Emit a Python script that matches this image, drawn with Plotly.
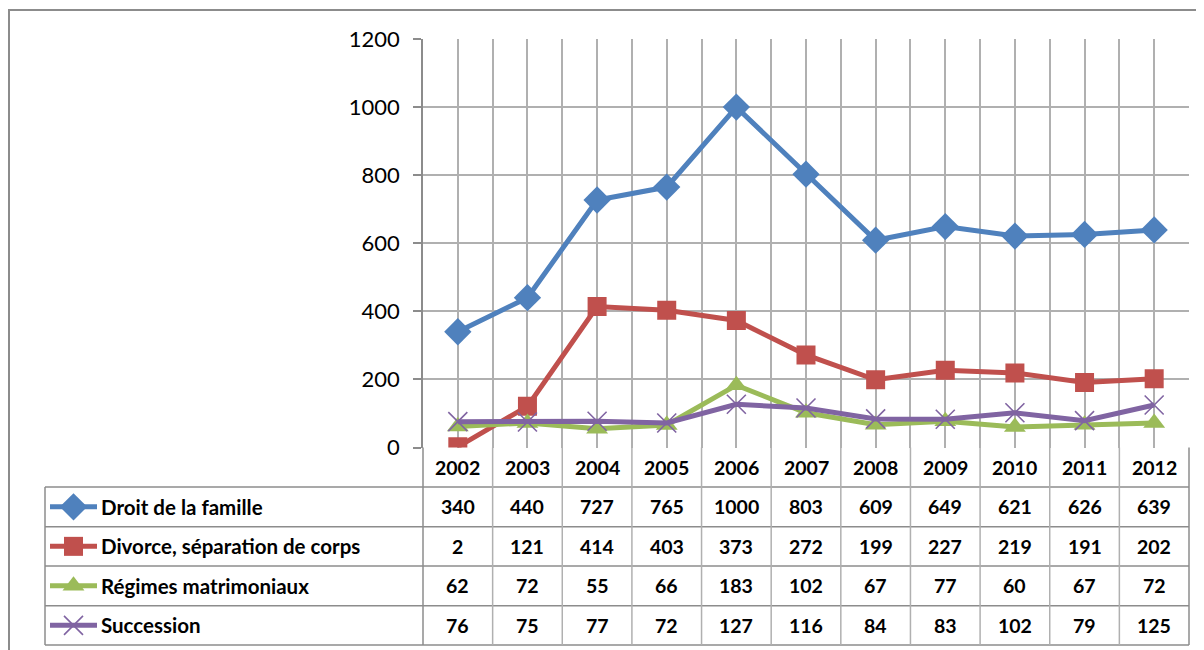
import plotly.graph_objects as go

years = ["2002", "2003", "2004", "2005", "2006", "2007", "2008", "2009", "2010", "2011", "2012"]
series_names = ["Droit de la famille", "Divorce, séparation de corps", "Régimes matrimoniaux", "Succession"]
droit = [340, 440, 727, 765, 1000, 803, 609, 649, 621, 626, 639]
divorce = [2, 121, 414, 403, 373, 272, 199, 227, 219, 191, 202]
regimes = [62, 72, 55, 66, 183, 102, 67, 77, 60, 67, 72]
succession = [76, 75, 77, 72, 127, 116, 84, 83, 102, 79, 125]
y_ticks = [0, 200, 400, 600, 800, 1000, 1200]

values = [droit, divorce, regimes, succession]
colors = ["#4F81BD", "#C0504D", "#9BBB59", "#8064A2"]
symbols = ["diamond", "square", "triangle-up", "x-thin"]
msizes = [21, 19, 19, 19]

W, H = 1204, 650
OFF = 8  # page body offset compensation
PL, PR, PT, PB = 423 - OFF, 1189 - OFF, 39 - OFF, 447.5 - OFF   # plot area in pixels
TL = 45 - OFF                                                    # table left
rows_y = [v - OFF for v in [447.5, 487, 526.7, 566, 605.7, 645]]
n = len(years)
cw = (PR - PL) / n
FONT = "Lato"
GRID = "#B0B0B0"
BORDER = "#8C8C8C"


def mk(c, s, ms):
    if s == "x-thin":
        return dict(symbol=s, size=ms, color=c, line=dict(width=1.6, color=c))
    return dict(symbol=s, size=ms, color=c, line=dict(width=0))


fig = go.Figure()
xs = list(range(n))
for name, vals, c, s, ms in zip(series_names, values, colors, symbols, msizes):
    fig.add_trace(go.Scatter(x=xs, y=vals, mode="lines+markers", name=name,
                             line=dict(color=c, width=5), marker=mk(c, s, ms),
                             showlegend=False, hoverinfo="skip"))

# legend keys in table (separate full-page pixel axes)
for i, (c, s, ms) in enumerate(zip(colors, symbols, msizes)):
    yc = (rows_y[i + 1] + rows_y[i + 2]) / 2
    fig.add_trace(go.Scatter(x=[50 - OFF, 97 - OFF], y=[yc, yc], mode="lines", line=dict(color=c, width=5),
                             xaxis="x2", yaxis="y2", showlegend=False, hoverinfo="skip"))
    fig.add_trace(go.Scatter(x=[73.5 - OFF], y=[yc], mode="markers", marker=mk(c, s, ms),
                             xaxis="x2", yaxis="y2", showlegend=False, hoverinfo="skip"))

shapes = []
annotations = []
# outer chart frame
shapes.append(dict(type="rect", xref="x2", yref="y2", x0=1, y0=10 - OFF, x1=1215, y1=665,
                   line=dict(color="#8C8C8C", width=2), layer="below"))
# table horizontal lines
for y in rows_y[1:]:
    shapes.append(dict(type="line", xref="x2", yref="y2", x0=TL, x1=PR, y0=y, y1=y,
                       line=dict(color=BORDER, width=1.5), layer="below"))
# table vertical lines
shapes.append(dict(type="line", xref="x2", yref="y2", x0=TL, x1=TL, y0=rows_y[1], y1=rows_y[-1],
                   line=dict(color=BORDER, width=1.5), layer="below"))
for k in range(n + 1):
    x = PL + k * cw
    shapes.append(dict(type="line", xref="x2", yref="y2", x0=x, x1=x, y0=rows_y[0], y1=rows_y[-1],
                       line=dict(color=BORDER if k in (0, n) else GRID, width=1.5), layer="below"))

# header years
for k, yr in enumerate(years):
    annotations.append(dict(xref="x2", yref="y2", x=PL + (k + 0.5) * cw, y=(rows_y[0] + rows_y[1]) / 2,
                            text="<b>%s</b>" % yr, showarrow=False, xanchor="center", yanchor="middle",
                            font=dict(family=FONT, size=19.5, color="black")))
# rows
for i, (name, vals) in enumerate(zip(series_names, values)):
    yc = (rows_y[i + 1] + rows_y[i + 2]) / 2
    annotations.append(dict(xref="x2", yref="y2", x=99 - OFF, y=yc, text="<b>%s</b>" % name,
                            showarrow=False, xanchor="left", yanchor="middle",
                            font=dict(family=FONT, size=20.5, color="black")))
    for k, v in enumerate(vals):
        annotations.append(dict(xref="x2", yref="y2", x=PL + (k + 0.5) * cw, y=yc,
                                text="<b>%d</b>" % v, showarrow=False, xanchor="center", yanchor="middle",
                                font=dict(family=FONT, size=19.5, color="black")))

fig.update_layout(
    template="none",
    width=W, height=H, margin=dict(l=0, r=0, t=0, b=0, pad=0, autoexpand=False),
    paper_bgcolor="white", plot_bgcolor="rgba(0,0,0,0)",
    xaxis=dict(domain=[PL / W, PR / W], range=[-0.5, n - 0.5], tick0=-0.5, dtick=0.5,
               showgrid=True, gridcolor=GRID, gridwidth=1.5, showticklabels=False,
               zeroline=False, showline=False, ticks="", anchor="y", automargin=False),
    yaxis=dict(domain=[1 - PB / H, 1 - PT / H], range=[0, 1200], tickvals=y_ticks,
               showgrid=True, gridcolor=GRID, gridwidth=1.5, zeroline=False,
               showline=True, linecolor=BORDER, linewidth=1.5,
               ticks="outside", ticklen=8, tickcolor=BORDER, tickwidth=1.5,
               ticklabelstandoff=9, anchor="x", automargin=False,
               tickfont=dict(family=FONT, size=22, color="black")),
    xaxis2=dict(domain=[0, 1], range=[0, W], visible=False, anchor="y2", automargin=False),
    yaxis2=dict(domain=[0, 1], range=[H, 0], visible=False, anchor="x2", automargin=False),
    shapes=shapes, annotations=annotations,
)
fig.write_html("out.html")
